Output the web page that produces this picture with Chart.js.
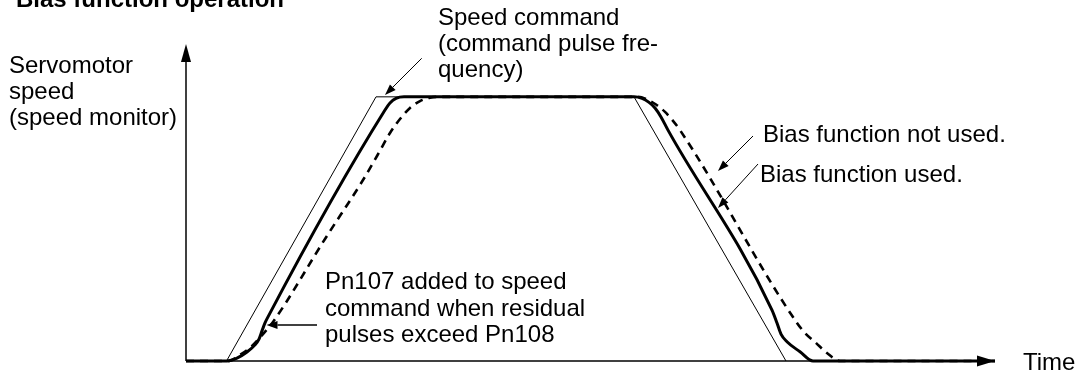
<!DOCTYPE html>
<html><head><meta charset="utf-8">
<script src="https://cdn.jsdelivr.net/npm/chart.js@4"></script>
<style>html,body{margin:0;padding:0;background:#fff;}#wrap{width:1078px;height:370px;position:relative;}canvas{display:block;}</style>
</head><body><div id="wrap"><canvas id="c" width="1078" height="370"></canvas></div>
<script>
// ---- data (time units, speed in % of command) ----
const commandTime  = [4.05, 19, 44.8, 60];
const commandSpeed = [0, 100, 100, 0];

const biasUsedTime  = [0, 4.1, 5.1, 6.1, 6.9, 7.3, 7.6, 7.9, 8.2, 19.9, 20.4, 21.0, 21.8, 44.8, 45.6, 46.3, 46.9, 47.5, 48.2, 58.6, 59.1, 59.5, 60.1, 61.4, 62.7, 80.9];
const biasUsedSpeed = [0, 0, 1.1, 3.4, 6.1, 8.3, 11.4, 14.4, 16.7, 95.0, 97.7, 99.4, 100, 100, 99.4, 97.9, 95.8, 92.4, 87.4, 19.3, 14.4, 10.2, 7.3, 3.5, 0, 0];

const biasNotUsedTime  = [0, 4.2, 5.4, 6.6, 7.7, 8.7, 13.9, 17.7, 19.1, 20.4, 21.4, 22.4, 23.4, 24.4, 25.6, 45.2, 46.1, 47.0, 47.9, 48.7, 49.4, 61.1, 62.0, 62.9, 64.1, 65.4, 80.9];
const biasNotUsedSpeed = [0, 0, 2.3, 5.7, 10.2, 14.8, 46.2, 68.5, 77.6, 86.3, 91.6, 95.8, 98.4, 99.7, 100, 100, 99.0, 97.1, 94.3, 90.9, 87.4, 14.4, 10.2, 7.2, 3.0, 0, 0];

const xRange = [0, 81];
const yRange = [0, 120];

const titleText = 'Bias function operation';
const yAxisLabel = ['Servomotor', 'speed', '(speed monitor)'];
const xAxisLabel = 'Time';
const cmdLabel = ['Speed command', '(command pulse fre-', 'quency)'];
const notUsedLabel = 'Bias function not used.';
const usedLabel = 'Bias function used.';
const pnLabel = ['Pn107 added to speed', 'command when residual', 'pulses exceed Pn108'];

function pts(xs, ys){ return xs.map((x,i)=>({x:x, y:ys[i]})); }

// ---- layout (pixels) ----
const L = {
  font: '24px "Liberation Sans", Arial, Helvetica, sans-serif',
  bold: 'bold 24px "Liberation Sans", Arial, Helvetica, sans-serif',
  title: {x:16, y:7},
  yLab: {x:9, y:[73, 99, 125]},
  xLab: {x:1023, y:369.5},
  cmd: {x:438, y:[25, 51, 76.5], arrow:[421.7, 58.3, 385, 95]},
  notUsed: {x:763, y:142, arrow:[753, 136, 718, 171]},
  used: {x:760, y:182, arrow:[758, 164, 718, 208]},
  pn: {x:325, y:[289, 315.5, 341.5], arrow:[317, 325, 266.5, 325]}
};

function arrow(ctx, x1, y1, x2, y2, len, hw){
  const a = Math.atan2(y2-y1, x2-x1);
  const bx = x2 - len*Math.cos(a), by = y2 - len*Math.sin(a);
  ctx.beginPath(); ctx.moveTo(x1,y1); ctx.lineTo(bx,by); ctx.stroke();
  ctx.beginPath();
  ctx.moveTo(x2,y2);
  ctx.lineTo(bx + hw*Math.sin(a), by - hw*Math.cos(a));
  ctx.lineTo(bx - hw*Math.sin(a), by + hw*Math.cos(a));
  ctx.closePath(); ctx.fill();
}

const annot = {
  id: 'annot',
  beforeDatasetsDraw(chart){
    const ctx = chart.ctx, xs = chart.scales.x, ys = chart.scales.y;
    const x0 = xs.getPixelForValue(0), y0 = ys.getPixelForValue(0);
    const yTop = ys.getPixelForValue(yRange[1]);
    const xEnd = xs.getPixelForValue(80.9);
    ctx.save();
    ctx.strokeStyle = '#000'; ctx.fillStyle = '#000'; ctx.lineWidth = 1.5;
    ctx.beginPath(); ctx.moveTo(x0, y0); ctx.lineTo(x0, yTop + 12); ctx.stroke();
    ctx.beginPath(); ctx.moveTo(x0, y0); ctx.lineTo(xEnd - 12, y0); ctx.stroke();
    ctx.beginPath(); ctx.moveTo(x0, yTop); ctx.lineTo(x0 - 5, yTop + 18); ctx.lineTo(x0 + 5, yTop + 18); ctx.closePath(); ctx.fill();
    ctx.beginPath(); ctx.moveTo(xEnd, y0); ctx.lineTo(xEnd - 18, y0 - 5.5); ctx.lineTo(xEnd - 18, y0 + 5.5); ctx.closePath(); ctx.fill();
    ctx.restore();
  },
  afterDatasetsDraw(chart){
    const ctx = chart.ctx;
    ctx.save();
    ctx.fillStyle = '#000'; ctx.strokeStyle = '#000';
    ctx.textBaseline = 'alphabetic'; ctx.textAlign = 'left';
    ctx.font = L.bold; ctx.fillText(titleText, L.title.x, L.title.y);
    ctx.font = L.font;
    yAxisLabel.forEach((t,i)=>ctx.fillText(t, L.yLab.x, L.yLab.y[i]));
    ctx.fillText(xAxisLabel, L.xLab.x, L.xLab.y);
    cmdLabel.forEach((t,i)=>ctx.fillText(t, L.cmd.x, L.cmd.y[i]));
    ctx.fillText(notUsedLabel, L.notUsed.x, L.notUsed.y);
    ctx.fillText(usedLabel, L.used.x, L.used.y);
    pnLabel.forEach((t,i)=>ctx.fillText(t, L.pn.x, L.pn.y[i]));
    ctx.lineWidth = 1;
    arrow(ctx, ...L.cmd.arrow, 11, 4);
    arrow(ctx, ...L.notUsed.arrow, 11, 4);
    arrow(ctx, ...L.used.arrow, 11, 4);
    ctx.lineWidth = 1.5;
    arrow(ctx, ...L.pn.arrow, 11, 4);
    ctx.restore();
  }
};

new Chart(document.getElementById('c'), {
  type: 'scatter',
  data: {
    datasets: [
      {label:'Speed command', data: pts(commandTime, commandSpeed), showLine:true, borderColor:'#000', borderWidth:1, pointRadius:0, clip:false, tension:0},
      {label:'Bias function used', data: pts(biasUsedTime, biasUsedSpeed), showLine:true, borderColor:'#000', borderWidth:3, pointRadius:0, clip:false, cubicInterpolationMode:'monotone'},
      {label:'Bias function not used', data: pts(biasNotUsedTime, biasNotUsedSpeed), showLine:true, borderColor:'#000', borderWidth:2.6, borderDash:[8,6], pointRadius:0, clip:false, cubicInterpolationMode:'monotone'}
    ]
  },
  options: {
    responsive:false, animation:false, devicePixelRatio:1,
    layout:{padding:{left:186, right:82, top:44, bottom:9}},
    scales:{
      x:{type:'linear', min:xRange[0], max:xRange[1], display:false},
      y:{type:'linear', min:yRange[0], max:yRange[1], display:false}
    },
    plugins:{legend:{display:false}, tooltip:{enabled:false}}
  },
  plugins:[annot]
});
</script></body></html>
